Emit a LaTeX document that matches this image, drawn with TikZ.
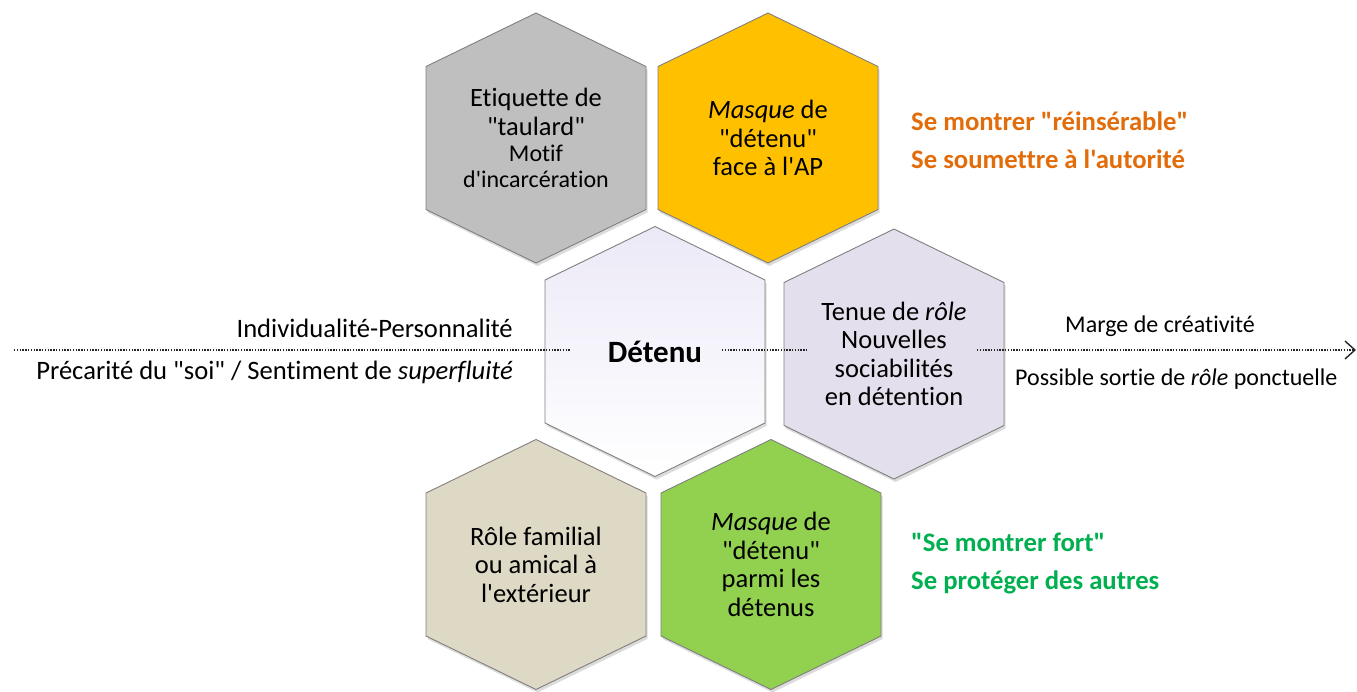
\documentclass[tikz,border=0pt]{standalone}
\usepackage{fontspec}
\setmainfont{Carlito}[Ligatures={TeXOff,NoCommon}]
\usetikzlibrary{shadows,arrows.meta}
\definecolor{hexline}{HTML}{7F7F7F}
\definecolor{cgray}{HTML}{BFBFBF}
\definecolor{corange}{HTML}{FFC000}
\definecolor{cbeige}{HTML}{DDD9C4}
\definecolor{cgreen}{HTML}{92D050}
\definecolor{clav}{HTML}{E4DFEC}
\definecolor{clavtop}{HTML}{ECE9F7}
\definecolor{torange}{HTML}{E36C0A}
\definecolor{tgreen}{HTML}{00B050}
\definecolor{dotcol}{HTML}{262626}
\newcommand{\hexat}[1]{(#1) ++(0,-125) -- ++(110,53.5) -- ++(0,143) -- ++(-110,53.5) -- ++(-110,-53.5) -- ++(0,-143) -- cycle}
\tikzset{
  hexa/.style={draw=hexline, line width=0.9pt, line join=miter,
    drop shadow={opacity=0.28, shadow xshift=1.5pt, shadow yshift=-3pt}},
  hextext/.style={align=center, inner sep=0pt, text=black,
    font=\fontsize{26.5}{28.5}\selectfont},
  sidetext/.style={inner sep=0pt, font=\fontsize{26.6}{30}\selectfont},
  righttext/.style={inner sep=0pt, font=\fontsize{24}{28}\selectfont},
  orangetext/.style={inner sep=0pt, anchor=base west, text=torange,
    font=\fontsize{26.7}{30}\selectfont\bfseries},
  greentext/.style={inner sep=0pt, anchor=base west, text=tgreen,
    font=\fontsize{26.7}{30}\selectfont\bfseries},
  dotline/.style={draw=dotcol, line width=1.3pt, dash pattern=on 1.3pt off 1.5pt}
}
\begin{document}
\begin{tikzpicture}[x=1pt, y=-1pt]
\useasboundingbox (0,0) rectangle (1357,691);
% centres
\coordinate (cG) at (536,138);
\coordinate (cO) at (768,138);
\coordinate (cD) at (655,351.5);
\coordinate (cT) at (894,354);
\coordinate (cB) at (536,564.5);
\coordinate (cV) at (771,564.5);
% hexagons
\path[hexa, fill=cgray] \hexat{cG};
\path[hexa, fill=corange] \hexat{cO};
\path[hexa, top color=clavtop, bottom color=white] \hexat{cD};
\path[hexa, fill=clav] \hexat{cT};
\path[hexa, fill=cbeige] \hexat{cB};
\path[hexa, fill=cgreen] \hexat{cV};
% hexagon texts
\node[hextext] (tG) at (cG) {Etiquette de\\"taulard"\\[-2pt]{\fontsize{24}{26}\selectfont Motif}\\[-3pt]{\fontsize{24}{26}\selectfont d'incarcération}};
\node[hextext] (tO) at (cO) {\textit{Masque} de\\"détenu"\\face à l'AP};
\node[hextext, font=\fontsize{31}{34}\selectfont\bfseries] (tD) at (cD) {Détenu};
\node[hextext] (tT) at (cT) {Tenue de \textit{rôle}\\Nouvelles\\sociabilités\\en détention};
\node[hextext] (tB) at (cB) {Rôle familial\\ou amical à\\l'extérieur};
\node[hextext] (tV) at (cV) {\textit{Masque} de\\"détenu"\\parmi les\\détenus};
% dotted axis
\coordinate (a0) at (14,350);
\coordinate (a1) at (570,350);
\coordinate (a2) at (722,350);
\coordinate (a3) at (808,350);
\coordinate (a4) at (977,350);
\coordinate (a5) at (1356,350);
\path[dotline] (a0) -- (a1);
\path[dotline] (a2) -- (a3);
\path[dotline, -{Straight Barb[length=10pt, width=18pt, line width=1.4pt]}] (a4) -- (a5);
% side labels
\node[sidetext, anchor=base east] (l1) at (513,337) {Individualité-Personnalité};
\node[sidetext, anchor=base east] (l2) at (513,379) {Précarité du "soi" / Sentiment de \textit{superfluité}};
\node[righttext, anchor=base] (r1) at (1160,332) {Marge de créativité};
\node[righttext, anchor=base west] (r2) at (1015,385) {Possible sortie de \textit{rôle} ponctuelle};
% coloured labels
\node[orangetext] (o1) at (911,130) {Se montrer "réinsérable"};
\node[orangetext] (o2) at (911,168) {Se soumettre à l'autorité};
\node[greentext] (g1) at (911,551) {"Se montrer fort"};
\node[greentext] (g2) at (911,589) {Se protéger des autres};
\end{tikzpicture}
\end{document}
